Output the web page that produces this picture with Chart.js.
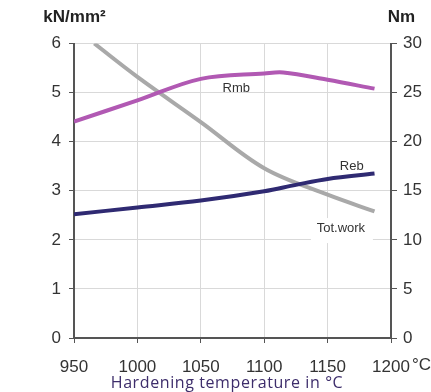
<!DOCTYPE html>
<html>
<head>
<meta charset="utf-8">
<script src="https://cdn.jsdelivr.net/npm/chart.js@4"></script>
<style>
  html, body { margin: 0; padding: 0; background: #fff; }
  #wrap { width: 431px; height: 392px; position: relative; }
</style>
</head>
<body>
<div id="wrap"><canvas id="hardeningChart"></canvas></div>
<script>
// Hardening temperature (°C) vs. strength (kN/mm²) and total work (Nm)
const tempTicks = [950, 1000, 1050, 1100, 1150, 1200];
const strengthTicks = [0, 1, 2, 3, 4, 5, 6];
const workTicks = [0, 5, 10, 15, 20, 25, 30];

const rmbTemps = [950, 1000, 1050, 1100, 1115, 1150, 1187];
const rmbValues = [4.41, 4.84, 5.28, 5.39, 5.41, 5.26, 5.08];

const rebTemps = [950, 1000, 1050, 1100, 1125, 1150, 1187];
const rebValues = [2.52, 2.66, 2.80, 2.99, 3.12, 3.24, 3.35];

const workTemps = [966, 1000, 1050, 1100, 1150, 1187];
const workValues = [30, 26.6, 22.0, 17.3, 14.6, 12.9];

// where the curve names sit, in data units of the left axis
const curveLabels = [
    { text: 'Rmb', x: 1078, y: 5.09, box: false },
    { text: 'Reb', x: 1169, y: 3.50, box: false },
    { text: 'Tot.work', x: 1160.5, y: 2.24, box: true }
];

const tickFont = { family: "'Liberation Sans', Arial, sans-serif", size: 17 };
const gridColor = '#d9d9d9';
const axisColor = '#555555';

function toPoints(xs, ys) {
    return xs.map((x, i) => ({ x: x, y: ys[i] }));
}

const annotate = {
    id: 'annotate',
    afterDatasetsDraw(chart) {
        const ctx = chart.ctx;
        const xs = chart.scales.x;
        const ys = chart.scales.y;
        ctx.save();
        ctx.font = "13px 'Liberation Sans', Arial, sans-serif";
        ctx.textAlign = 'center';
        ctx.textBaseline = 'middle';
        curveLabels.forEach(l => {
            const px = xs.getPixelForValue(l.x);
            const py = ys.getPixelForValue(l.y);
            if (l.box) {
                ctx.fillStyle = '#ffffff';
                ctx.fillRect(px - 30, py - 10, 62, 25);
            }
            ctx.fillStyle = '#333333';
            ctx.fillText(l.text, px, py);
        });
        ctx.restore();
    },
    afterDraw(chart) {
        const ctx = chart.ctx;
        const xs = chart.scales.x;
        ctx.save();
        ctx.fillStyle = '#222222';
        ctx.textBaseline = 'middle';
        ctx.textAlign = 'center';
        ctx.font = "bold 17px 'Liberation Sans', Arial, sans-serif";
        ctx.fillText('kN/mm²', 74.5, 17);
        ctx.fillText('Nm', 401.5, 17);

        // unit after the last temperature tick
        ctx.font = tickFont.size + "px 'Liberation Sans', Arial, sans-serif";
        ctx.fillStyle = '#333333';
        ctx.textAlign = 'left';
        const lastX = xs.getPixelForValue(tempTicks[tempTicks.length - 1]);
        const half = ctx.measureText(String(tempTicks[tempTicks.length - 1])).width / 2;
        ctx.fillText('°C', lastX + half + 2, 365.5);

        ctx.font = "16px 'Open Sans', sans-serif";
        ctx.letterSpacing = '0.6px';
        ctx.fillStyle = '#3d2d6b';
        ctx.textAlign = 'center';
        ctx.fillText('Hardening temperature in °C', 227, 383);
        ctx.restore();
    }
};

new Chart(document.getElementById('hardeningChart'), {
    type: 'line',
    data: {
        datasets: [
            {
                label: 'Rmb',
                data: toPoints(rmbTemps, rmbValues),
                borderColor: '#b159b3',
                yAxisID: 'y'
            },
            {
                label: 'Reb',
                data: toPoints(rebTemps, rebValues),
                borderColor: '#2f2a72',
                yAxisID: 'y'
            },
            {
                label: 'Tot.work',
                data: toPoints(workTemps, workValues),
                borderColor: '#a9a9a9',
                yAxisID: 'y1'
            }
        ]
    },
    options: {
        responsive: true,
        maintainAspectRatio: false,
        animation: false,
        layout: { padding: { top: 43.5, left: 0, right: 0, bottom: 0 } },
        elements: {
            line: { borderWidth: 4, tension: 0.35, fill: false, borderCapStyle: 'butt' },
            point: { radius: 0, hoverRadius: 0 }
        },
        plugins: {
            legend: { display: false },
            tooltip: { enabled: false }
        },
        scales: {
            x: {
                type: 'linear',
                min: tempTicks[0],
                max: tempTicks[tempTicks.length - 1],
                afterBuildTicks: s => { s.ticks = tempTicks.map(v => ({ value: v })); },
                afterFit: s => { s.height = 54; },
                grid: { color: gridColor, tickColor: axisColor, tickLength: 5 },
                border: { color: axisColor, width: 2 },
                ticks: { font: tickFont, color: '#333333', padding: 14, maxRotation: 0, callback: v => String(v) }
            },
            y: {
                position: 'left',
                min: 0,
                max: 6,
                afterBuildTicks: s => { s.ticks = strengthTicks.map(v => ({ value: v })); },
                afterFit: s => { s.width = 74; },
                grid: { color: gridColor, tickColor: axisColor, tickLength: 5 },
                border: { color: axisColor, width: 2 },
                ticks: { font: tickFont, color: '#333333', padding: 8 }
            },
            y1: {
                position: 'right',
                min: 0,
                max: 30,
                afterBuildTicks: s => { s.ticks = workTicks.map(v => ({ value: v })); },
                afterFit: s => { s.width = 40; },
                grid: { drawOnChartArea: false, tickColor: axisColor, tickLength: 6 },
                border: { color: axisColor, width: 2 },
                ticks: { font: tickFont, color: '#333333', padding: 6 }
            }
        }
    },
    plugins: [annotate]
});
</script>
</body>
</html>
